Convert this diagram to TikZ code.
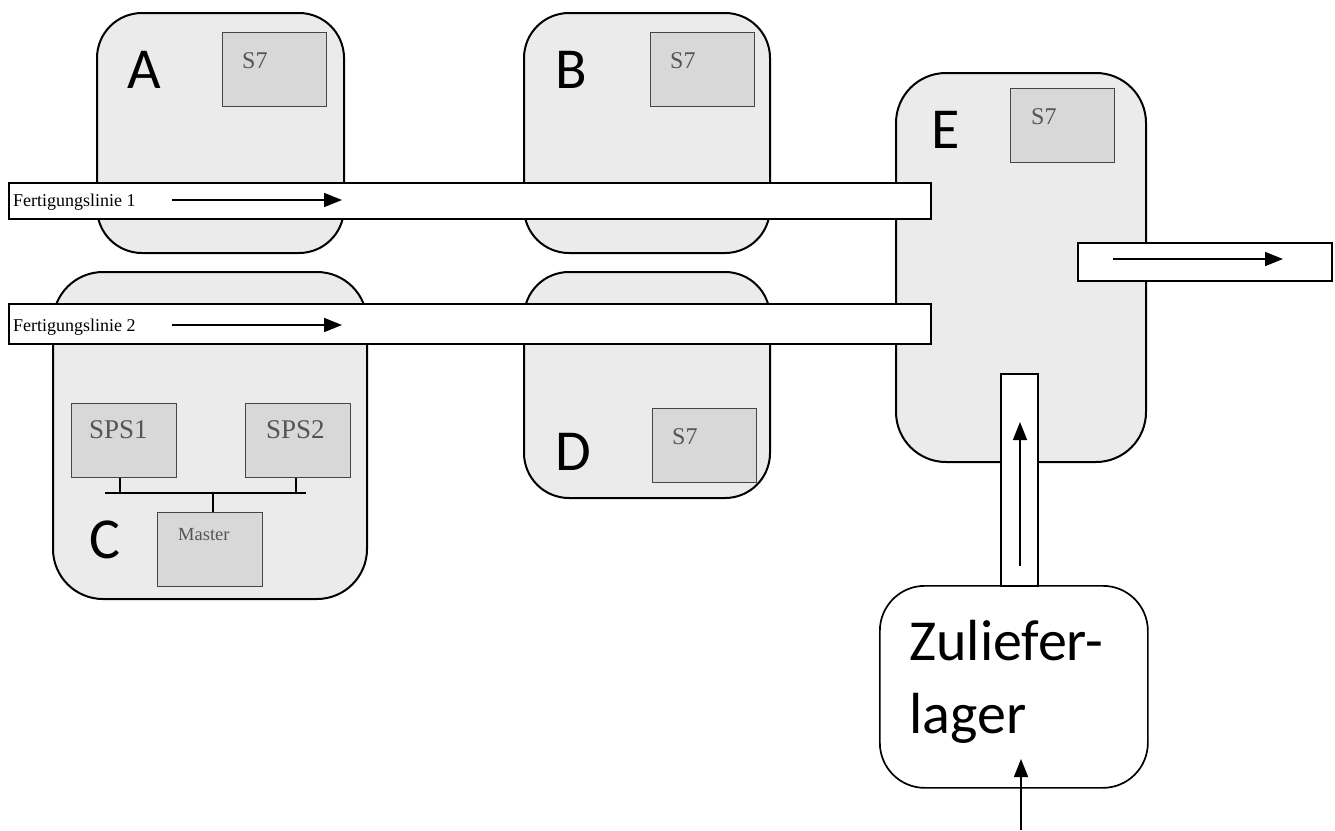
\documentclass[tikz,border=0pt]{standalone}
\usepackage{fontspec}
\setmainfont{Liberation Serif}
\newfontfamily\carl{Carlito}
\usetikzlibrary{arrows.meta}
\definecolor{hallfill}{RGB}{235,235,235}
\definecolor{ctrlfill}{RGB}{216,216,216}
\definecolor{ctrltext}{RGB}{85,85,85}
\definecolor{ctrledge}{RGB}{70,70,70}
\begin{document}
\begin{tikzpicture}[x=1pt,y=-1pt,
  hallbox/.style={draw=black, line width=2pt, fill=hallfill, rounded corners=45pt, inner sep=0pt, anchor=north west},
  storebox/.style={draw=black, line width=1.7pt, fill=white, rounded corners=45pt, inner sep=0pt, anchor=north west},
  band/.style={draw=black, line width=1.6pt, fill=white, inner sep=0pt, anchor=north west},
  ctrl/.style={draw=ctrledge, line width=1.3pt, fill=ctrlfill, inner sep=0pt, anchor=north west, minimum width=104, minimum height=74},
  ctrllabel/.style={text=ctrltext, inner sep=0pt, anchor=base west, font=\fontsize{24}{24}\selectfont},
  letter/.style={inner sep=0pt, anchor=base west, font=\carl\fontsize{58}{58}\selectfont},
  storetext/.style={inner sep=0pt, anchor=base west, font=\carl\fontsize{58}{58}\selectfont},
  linelabel/.style={inner sep=0pt, anchor=base west, font=\fontsize{18}{18}\selectfont},
  flow/.style={line width=1.6pt, -{Triangle[length=18pt,width=14pt]}},
  bus/.style={line width=1.7pt}
]
\useasboundingbox (0,0) rectangle (1335,830);

% halls
\node[hallbox, minimum width=247, minimum height=240] (A) at (96,12) {};
\node[hallbox, minimum width=246, minimum height=240] (B) at (523,12) {};
\node[hallbox, minimum width=314, minimum height=327, rounded corners=50pt] (C) at (52,271) {};
\node[hallbox, minimum width=246, minimum height=226] (D) at (523,271) {};
\node[hallbox, minimum width=250, minimum height=389, rounded corners=50pt] (E) at (895,72) {};

% supplier store
\node[storebox, minimum width=268, minimum height=202] (Z) at (879,585) {};

% conveyor bands
\node[band, minimum width=922, minimum height=36] (L1) at (8,182) {};
\node[band, minimum width=922, minimum height=40] (L2) at (8,303) {};
\node[band, minimum width=254, minimum height=38] (OUT) at (1077,242) {};
\node[band, minimum width=37, minimum height=212] (IN) at (1000,373) {};

% controllers
\node[ctrl] (SA) at (222,32) {};
\node[ctrl] (SB) at (650,32) {};
\node[ctrl] (SE) at (1010,88) {};
\node[ctrl] (SD) at (652,408) {};
\node[ctrl, minimum width=105] (SPS1) at (71,403) {};
\node[ctrl, minimum width=105] (SPS2) at (245,403) {};
\node[ctrl, minimum width=105] (M) at (157,512) {};

\node[ctrllabel] (tSA) at (242,68) {S7};
\node[ctrllabel] (tSB) at (670,68) {S7};
\node[ctrllabel] (tSE) at (1031,124) {S7};
\node[ctrllabel] (tSD) at (672,444) {S7};
\node[ctrllabel, font=\fontsize{27}{27}\selectfont] (tSPS1) at (89,438) {SPS1};
\node[ctrllabel, font=\fontsize{27}{27}\selectfont] (tSPS2) at (266,438) {SPS2};
\node[ctrllabel, font=\fontsize{18.5}{18.5}\selectfont] (tM) at (178,540) {Master};

% bus
\coordinate (busL) at (105,493);
\coordinate (busR) at (306,493);
\coordinate (b1) at (120,493);
\coordinate (b2) at (296,493);
\coordinate (bm) at (213,493);
\draw[bus] (busL) -- (busR);
\draw[bus] (SPS1.south west -| b1) -- (b1);
\draw[bus] (SPS2.south west -| b2) -- (b2);
\draw[bus] (bm) -- (M.north west -| bm);

% hall letters
\node[letter] (lA) at (127,88) {A};
\node[letter] (lB) at (555,88) {B};
\node[letter] (lC) at (89,558) {C};
\node[letter] (lD) at (555,470) {D};
\node[letter] (lE) at (931,148) {E};

% store text
\node[storetext] (z1) at (909,660) {Zuliefer-};
\node[storetext] (z2) at (909,733) {lager};

% line labels
\node[linelabel] (t1) at (13,206) {Fertigungslinie 1};
\node[linelabel] (t2) at (13,331) {Fertigungslinie 2};

% flow arrows
\coordinate (f1s) at (172,200); \coordinate (f1e) at (342,200);
\coordinate (f2s) at (172,325); \coordinate (f2e) at (342,325);
\coordinate (fos) at (1113,259); \coordinate (foe) at (1283,259);
\coordinate (fis) at (1020,566); \coordinate (fie) at (1020,422);
\coordinate (fzs) at (1021,830); \coordinate (fze) at (1021,759);
\draw[flow] (f1s) -- (f1e);
\draw[flow] (f2s) -- (f2e);
\draw[flow] (fos) -- (foe);
\draw[flow] (fis) -- (fie);
\draw[flow] (fzs) -- (fze);
\end{tikzpicture}
\end{document}
